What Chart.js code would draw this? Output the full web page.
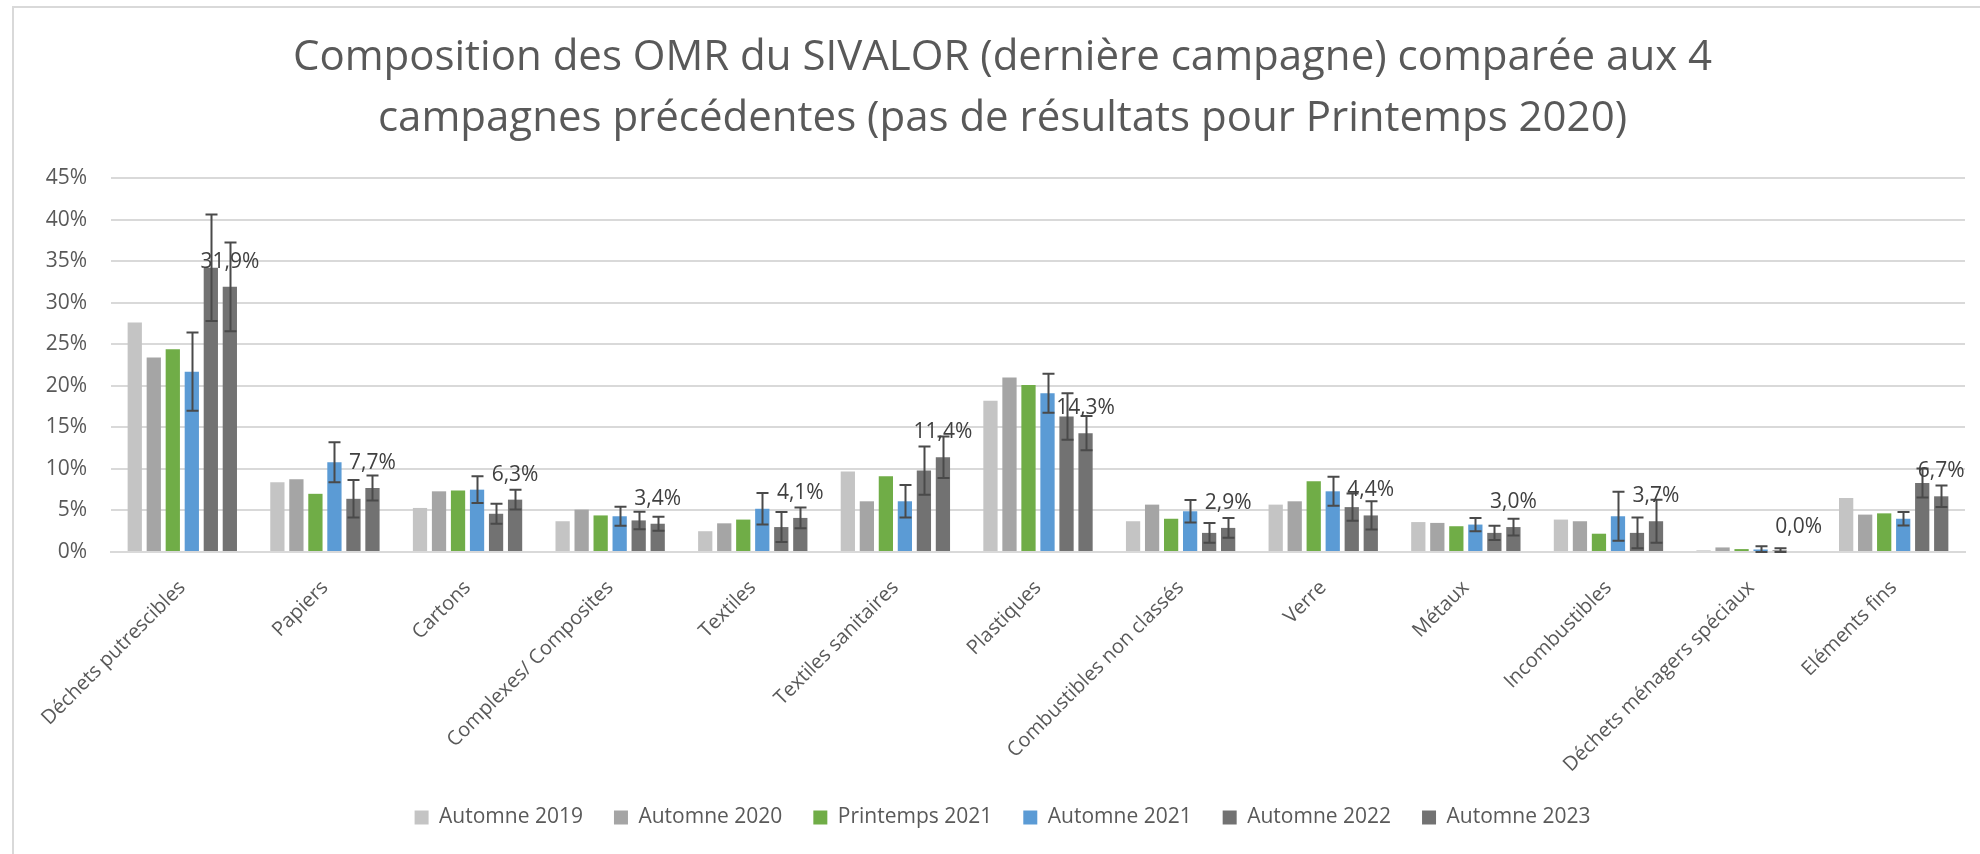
<!DOCTYPE html>
<html lang="fr">
<head>
<meta charset="utf-8">
<title>Composition des OMR du SIVALOR</title>
<script src="https://cdn.jsdelivr.net/npm/chart.js@4.4.1/dist/chart.umd.min.js"></script>
<style>
    html, body { margin: 0; padding: 0; background: #fff; overflow: hidden; }
    .frame { position: absolute; left: 12px; top: 6px; width: 2000px; height: 900px; border: 2px solid #d9d9d9; }
    .chart-container { position: absolute; left: 0; top: 0; width: 1980px; height: 854px; }
</style>
</head>
<body>
<div class="frame"></div>
<div class="chart-container"><canvas id="omrChart"></canvas></div>
<script>
const categories = [
    'Déchets putrescibles', 'Papiers', 'Cartons', 'Complexes/ Composites', 'Textiles',
    'Textiles sanitaires', 'Plastiques', 'Combustibles non classés', 'Verre', 'Métaux',
    'Incombustibles', 'Déchets ménagers spéciaux', 'Eléments fins'
];

// values in %
const automne2019 = [27.6, 8.4, 5.3, 3.7, 2.5, 9.7, 18.2, 3.7, 5.7, 3.6, 3.9, 0.2, 6.5];
const automne2020 = [23.4, 8.75, 7.3, 5.1, 3.45, 6.1, 21.0, 5.7, 6.1, 3.5, 3.7, 0.55, 4.5];
const printemps2021 = [24.4, 7.0, 7.4, 4.4, 3.9, 9.1, 20.1, 4.0, 8.5, 3.1, 2.2, 0.35, 4.65];
const automne2021 = [21.7, 10.8, 7.5, 4.3, 5.2, 6.1, 19.1, 4.9, 7.3, 3.3, 4.3, 0.3, 4.0];
const automne2022 = [34.2, 6.4, 4.6, 3.8, 3.0, 9.8, 16.3, 2.3, 5.4, 2.3, 2.3, 0.2, 8.3];
const automne2023 = [31.9, 7.7, 6.3, 3.4, 4.1, 11.4, 14.3, 2.9, 4.4, 3.0, 3.7, 0.0, 6.7];

// error bar half-widths (± %)
const errors2021 = [4.7, 2.4, 1.6, 1.15, 1.9, 1.95, 2.35, 1.35, 1.75, 0.8, 2.95, 0.4, 0.8];
const errors2022 = [6.4, 2.25, 1.2, 1.05, 1.8, 2.9, 2.8, 1.2, 1.65, 0.85, 1.85, 0.25, 1.75];
const errors2023 = [5.35, 1.5, 1.2, 0.85, 1.25, 2.5, 2.05, 1.2, 1.7, 1.0, 2.6, 0, 1.3];

const yTicks = [0, 5, 10, 15, 20, 25, 30, 35, 40, 45];

const FONT = '"Open Sans", "Noto Sans", sans-serif';
const fmtPct = v => v.toFixed(1).replace('.', ',') + '%';

const errorBars = {
    id: 'errorBars',
    afterDatasetsDraw(chart) {
        const { ctx, scales: { y }, chartArea } = chart;
        ctx.save();
        ctx.strokeStyle = '#4a4a4a';
        ctx.lineWidth = 2;
        chart.data.datasets.forEach((ds, di) => {
            if (!ds.errors) return;
            const meta = chart.getDatasetMeta(di);
            meta.data.forEach((bar, i) => {
                const e = ds.errors[i];
                if (!e) return;
                const v = ds.data[i];
                const top = y.getPixelForValue(v + e);
                const bottom = Math.min(y.getPixelForValue(v - e), chartArea.bottom);
                const x = Math.round(bar.x) + 0.5;
                ctx.beginPath();
                ctx.moveTo(x, top);
                ctx.lineTo(x, bottom);
                ctx.moveTo(x - 6, top);
                ctx.lineTo(x + 6, top);
                ctx.moveTo(x - 6, bottom);
                ctx.lineTo(x + 6, bottom);
                ctx.stroke();
            });
        });
        ctx.restore();
    }
};

const valueLabels = {
    id: 'valueLabels',
    afterDatasetsDraw(chart) {
        const { ctx } = chart;
        ctx.save();
        ctx.font = '21px ' + FONT;
        ctx.fillStyle = '#404040';
        ctx.textAlign = 'center';
        ctx.textBaseline = 'middle';
        chart.data.datasets.forEach((ds, di) => {
            if (!ds.showValues) return;
            chart.getDatasetMeta(di).data.forEach((bar, i) => {
                ctx.fillText(fmtPct(ds.data[i]), bar.x, bar.y - 25);
            });
        });
        ctx.restore();
    }
};

const common = { categoryPercentage: 0.8, barPercentage: 0.75 };

new Chart(document.getElementById('omrChart'), {
    type: 'bar',
    data: {
        labels: categories,
        datasets: [
            { label: 'Automne 2019', data: automne2019, backgroundColor: '#c4c4c4', ...common },
            { label: 'Automne 2020', data: automne2020, backgroundColor: '#a5a5a5', ...common },
            { label: 'Printemps 2021', data: printemps2021, backgroundColor: '#70ad47', ...common },
            { label: 'Automne 2021', data: automne2021, errors: errors2021, backgroundColor: '#5b9bd5', ...common },
            { label: 'Automne 2022', data: automne2022, errors: errors2022, backgroundColor: '#727272', ...common },
            { label: 'Automne 2023', data: automne2023, errors: errors2023, showValues: true, backgroundColor: '#727272', ...common },
        ],
    },
    options: {
        responsive: true,
        maintainAspectRatio: false,
        animation: false,
        layout: { padding: { left: 40, right: 15, top: 0, bottom: 16 } },
        plugins: {
            title: {
                display: true,
                text: [
                    'Composition des OMR du SIVALOR (dernière campagne) comparée aux 4',
                    'campagnes précédentes (pas de résultats pour Printemps 2020)',
                ],
                color: '#595959',
                font: { family: FONT, size: 42, weight: 'normal', lineHeight: 1.452 },
                padding: { top: 28, bottom: 28 },
            },
            legend: {
                position: 'bottom',
                labels: {
                    color: '#595959',
                    font: { family: FONT, size: 21 },
                    boxWidth: 14,
                    boxHeight: 14,
                    padding: 31,
                },
            },
            tooltip: { enabled: false },
        },
        scales: {
            x: {
                grid: { display: false },
                border: { color: '#d9d9d9', width: 2 },
                ticks: {
                    color: '#595959',
                    font: { family: FONT, size: 20 },
                    maxRotation: 45,
                    minRotation: 45,
                    padding: 16,
                },
                afterFit: scale => { scale.height = 224; },
            },
            y: {
                min: 0,
                max: 45,
                afterBuildTicks: scale => { scale.ticks = yTicks.map(v => ({ value: v })); },
                grid: { color: '#d9d9d9', lineWidth: 2, drawTicks: false },
                border: { display: false },
                ticks: {
                    color: '#595959',
                    font: { family: FONT, size: 21 },
                    padding: 24,
                    callback: v => v + '%',
                },
                afterFit: scale => { scale.width = 71; },
            },
        },
    },
    plugins: [errorBars, valueLabels],
});
</script>
</body>
</html>
